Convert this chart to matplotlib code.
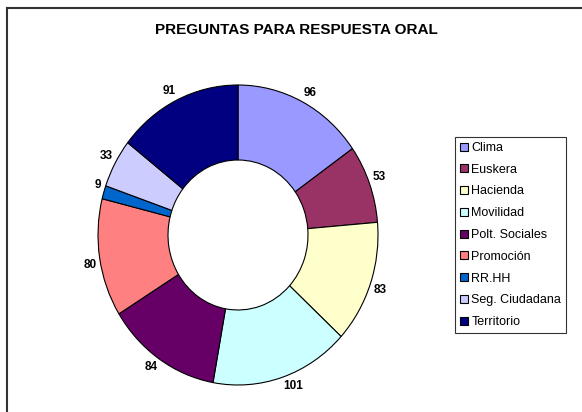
import numpy as np
import matplotlib.pyplot as plt
from matplotlib.lines import Line2D

plt.rcParams['font.family'] = ['Liberation Sans', 'DejaVu Sans']

categories = ["Clima", "Euskera", "Hacienda", "Movilidad", "Polt. Sociales",
              "Promoción", "RR.HH", "Seg. Ciudadana", "Territorio"]
values = [96, 53, 83, 101, 84, 80, 9, 33, 91]
colors = ["#9999FF", "#993366", "#FFFFCC", "#CCFFFF", "#660066",
          "#FF8080", "#0066CC", "#CCCCFF", "#000080"]

W, H = 582, 412
fig = plt.figure(figsize=(W / 100, H / 100), dpi=100)

# pie axes: ellipse 280 x 300 px centred at (238, 235) from top
cx, cy, rx, ry = 238, 235, 140, 150
ax = fig.add_axes([(cx - rx) / W, (H - cy - ry) / H, 2 * rx / W, 2 * ry / H])
wedges, _ = ax.pie(values, colors=colors, startangle=90, counterclock=False,
                   wedgeprops=dict(width=0.5, edgecolor="black", linewidth=0.8))
ax.set_aspect("auto")
ax.set_xlim(-1, 1)
ax.set_ylim(-1, 1)

# value labels just outside the ring, Excel style
for w, v in zip(wedges, values):
    ang = np.deg2rad((w.theta1 + w.theta2) / 2)
    x, y = np.cos(ang), np.sin(ang)
    ax.annotate(str(v), xy=(x, y), xytext=(2.2 * x, 2.2 * y),
                textcoords="offset points", fontsize=8.5, fontweight="bold",
                ha="left" if x > 0 else "right",
                va="bottom" if y > 0 else "top", annotation_clip=False)

fig.text(296 / W, 1 - 30 / H, "PREGUNTAS PARA RESPUESTA ORAL", ha="center",
         va="center", fontsize=11, fontweight="bold")

leg = fig.legend(wedges, categories, loc="upper left",
                 bbox_to_anchor=(455 / W, 1 - 137 / H), fontsize=9,
                 frameon=True, fancybox=False, edgecolor="black",
                 handlelength=0.6, handleheight=0.6, handletextpad=0.3,
                 labelspacing=0.78, borderpad=0.4, borderaxespad=0)
leg.get_frame().set_linewidth(0.8)

# outer chart frame, only left and top edges visible
fig.add_artist(Line2D([7 / W, 7 / W], [0, 1 - 8 / H], color="#333333", lw=1.5))
fig.add_artist(Line2D([7 / W, 1], [1 - 8 / H, 1 - 8 / H], color="#333333", lw=1.5))

fig.savefig("out.png", dpi=100, facecolor="white")
